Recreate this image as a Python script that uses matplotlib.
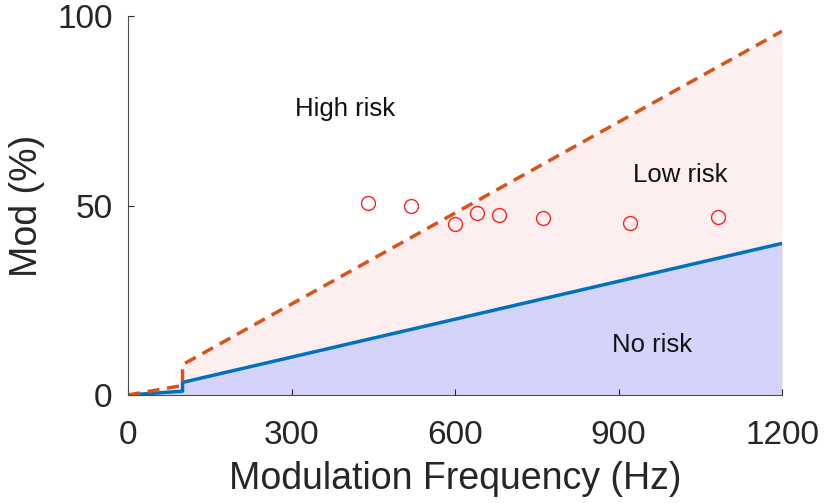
import numpy as np
import matplotlib
matplotlib.use("Agg")
import matplotlib.pyplot as plt

plt.rcParams['font.family'] = ['Liberation Sans', 'DejaVu Sans']

# IEEE 1789 style limits (Hz, %)
freq = [0, 100, 100, 1200]
low_risk = [0, 2.5, 8, 96]
no_risk = [0, 1, 3.33, 40]

# measured points
meas_f = [440, 519, 600, 640, 681, 761, 921, 1083]
meas_mod = [50.7, 49.9, 45.1, 48.0, 47.5, 46.7, 45.4, 47.0]

labels = ["High risk", "Low risk", "No risk"]
label_pos = [(398, 75.5), (1013, 58), (961, 13.2)]

fig = plt.figure(figsize=(8.26, 5.03), dpi=100)
ax = fig.add_axes([128 / 826, 1 - 395 / 503, 654 / 826, 379 / 503])

ax.fill_between(freq, no_risk, low_risk, color="#fdefef", lw=0)
ax.fill_between(freq, 0, no_risk, color="#d4d4fa", lw=0)
ax.plot(freq, no_risk, color="#0072BD", lw=2.5)
ax.plot(freq, low_risk, color="#D95319", lw=2.5, ls=(0, (3.5, 2.2)))
ax.plot(meas_f, meas_mod, "o", mfc="none", mec="#ff2020", ms=10, mew=1)

for t, (x, y) in zip(labels, label_pos):
    ax.text(x, y, t, fontsize=18.5, ha="center", va="center", color="#111111")

ax.set_xlim(0, 1200)
ax.set_ylim(0, 100)
ax.set_xticks([0, 300, 600, 900, 1200])
ax.set_yticks([0, 50, 100])
ax.tick_params(direction="in", length=4, labelsize=24, colors="#262626")
ax.tick_params(axis="x", pad=18)
ax.tick_params(axis="y", pad=11)
ax.set_xlabel("Modulation Frequency (Hz)", fontsize=27, color="#262626", labelpad=7)
ax.set_ylabel("Mod (%)", fontsize=27, color="#262626", labelpad=9)
for s in ["top", "right"]:
    ax.spines[s].set_visible(False)
for s in ["left", "bottom"]:
    ax.spines[s].set_color("#4d4d4d")

fig.savefig("out.png", dpi=100)
